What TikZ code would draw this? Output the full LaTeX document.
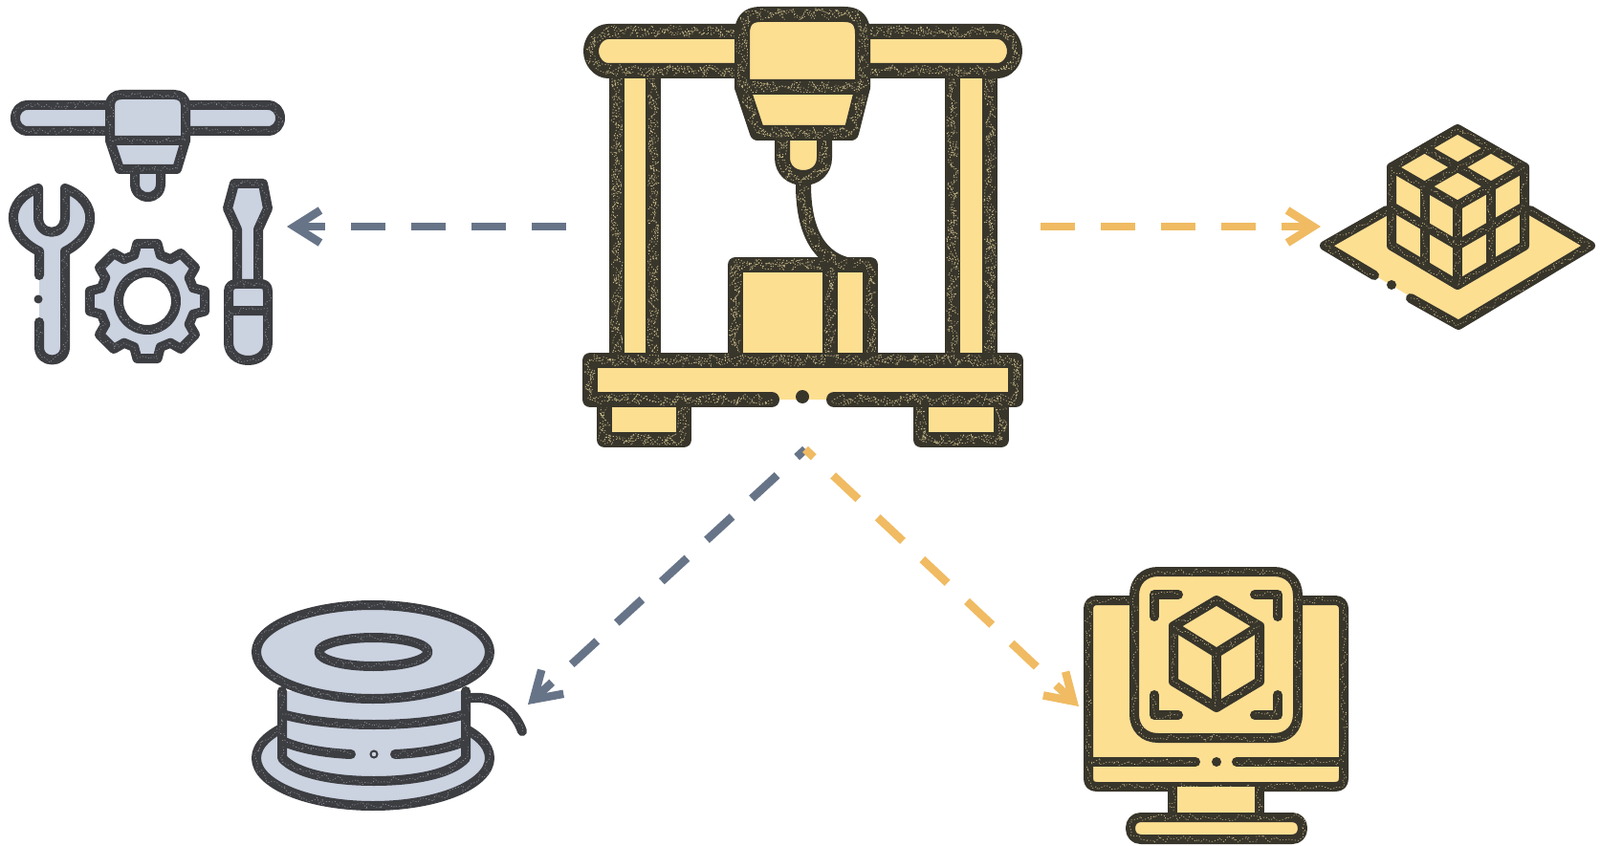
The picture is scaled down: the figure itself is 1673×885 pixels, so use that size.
\documentclass[tikz,border=0pt]{standalone}
\usetikzlibrary{arrows.meta,decorations.pathmorphing,calc}
\definecolor{ylw}{HTML}{FDDF92}
\definecolor{gry}{HTML}{CBD2E0}
\definecolor{inkY}{HTML}{38352B}
\definecolor{inkG}{HTML}{3D3E42}
\definecolor{chalkY}{HTML}{C9BC8A}
\definecolor{chalkG}{HTML}{8B8E96}
\definecolor{arrG}{HTML}{677488}
\definecolor{arrY}{HTML}{F0BB62}
\tikzset{
  flowbase/.style={line width=8.5pt,-{Straight Barb[length=27pt,width=34pt,line width=8.5pt]}},
  flowG/.style={flowbase,draw=arrG},
  flowY/.style={flowbase,draw=arrY},
  straightdash/.style={dash pattern=on 36pt off 27pt},
  diagdash/.style={dash pattern=on 36pt off 28pt,dash phase=24pt},
  scratch/.style n args={4}{postaction={decorate,decoration={random steps,segment length=#1,amplitude=#2},draw=#3,line width=#4,dash pattern=on 1.2pt off 2pt,line cap=butt,fill=none}},
  bigC/.style={draw=inkY,line width=16pt,line join=round,line cap=round,scratch={3.5pt}{6.5pt}{chalkY}{.75pt},scratch={2.5pt}{6.5pt}{chalkY}{.6pt}},
  midY/.style={draw=inkY,line width=10pt,line join=round,line cap=round,scratch={3.5pt}{3.8pt}{chalkY}{.6pt}},
  midG/.style={draw=inkG,line width=10pt,line join=round,line cap=round,scratch={3.5pt}{3.8pt}{chalkG}{.6pt}},
}
\begin{document}
\begin{tikzpicture}[x=1pt,y=-1pt]
\useasboundingbox (0,0) rectangle (1673,885);
\fill[white] (0,0) rectangle (1673,885);

% ---------- connector ends ----------
\coordinate (printerW) at (592,237);
\coordinate (printerE) at (1088,237);
\coordinate (printerS) at (842,470);
\coordinate (toolsE) at (300,237);
\coordinate (plateW) at (1381,237);
\coordinate (spoolNE) at (552,737);
\coordinate (monitorW) at (1128,739);

% ---------- connectors ----------
\draw[flowG,straightdash] (printerW) -- (toolsE);
\draw[flowY,straightdash] (printerE) -- (plateW);
\draw[flowG,diagdash] (printerS) -- (spoolNE);
\draw[flowY,diagdash] (printerS) -- (monitorW);

% ---------- printer ----------
\fill[ylw] (645,74) rectangle (683,377);
\fill[ylw] (996,74) rectangle (1035,377);
\draw[bigC] (645,74) -- (645,377);
\draw[bigC] (683,74) -- (683,377);
\draw[bigC] (996,74) -- (996,377);
\draw[bigC] (1035,74) -- (1035,377);
\draw[bigC,fill=ylw] (636,33) -- (1043,33) .. controls (1053,33) and (1061,43) .. (1061,53.5) .. controls (1061,64) and (1053,74) .. (1043,74) -- (636,74) .. controls (626,74) and (618,64) .. (618,53.5) .. controls (618,43) and (626,33) .. (636,33) -- cycle;
\draw[bigC,fill=ylw] (769,377) -- (769,277) -- (910,277) -- (910,377);
\draw[bigC] (868,277) -- (868,377);
\draw[bigC] (840,193) .. controls (840,235) and (852,268) .. (885,277);
\draw[bigC,fill=ylw] (818,139) -- (818,165) .. controls (818,178) and (828,186) .. (840,186) .. controls (852,186) and (862,178) .. (862,165) -- (862,139);
\draw[bigC,fill=ylw] (776,91) -- (792,139) -- (890,139) -- (902,91) -- cycle;
\draw[bigC,fill=ylw] (776,91) -- (776,35) .. controls (776,22) and (782,15) .. (795,15) -- (883,15) .. controls (896,15) and (902,22) .. (902,35) -- (902,91) -- cycle;
% feet
\draw[bigC,fill=ylw] (632,418) -- (632,460) -- (715,460) -- (715,418);
\draw[bigC,fill=ylw] (963,418) -- (963,460) -- (1047,460) -- (1047,418);
% base
\fill[ylw] (617,377) rectangle (1062,418);
\draw[bigC] (807,418) -- (617,418) -- (617,377) -- (1062,377) -- (1062,418) -- (872,418);
\fill[inkY] (839,415) circle[radius=7pt];

% ---------- tools ----------
\draw[midG,fill=gry] (29,110) -- (280,110) .. controls (288,110) and (293,116) .. (293,123.5) .. controls (293,131) and (288,137) .. (280,137) -- (29,137) .. controls (21,137) and (16,131) .. (16,123.5) .. controls (16,116) and (21,110) .. (29,110) -- cycle;
\draw[midG,fill=gry] (141,177) -- (141,192) .. controls (141,201) and (147,206) .. (154.5,206) .. controls (162,206) and (168,201) .. (168,192) -- (168,177);
\draw[midG,fill=gry] (115,147) -- (125,177) -- (185,177) -- (194,147) -- cycle;
\draw[midG,fill=gry] (115,147) -- (115,110) .. controls (115,103) and (120,99) .. (127,99) -- (182,99) .. controls (189,99) and (194,103) .. (194,110) -- (194,147) -- cycle;
% wrench
\fill[gry] (41,263) .. controls (5,245) and (5,210) .. (40,197) -- (40,227) .. controls (40,248) and (68,248) .. (68,227) -- (68,197) .. controls (103,210) and (103,245) .. (68,263) -- (68,363) .. controls (68,381) and (41,381) .. (41,363) -- cycle;
\draw[midG] (41,337) -- (41,363) .. controls (41,381) and (68,381) .. (68,363) -- (68,263) .. controls (103,245) and (103,210) .. (68,197) -- (68,227) .. controls (68,248) and (40,248) .. (40,227) -- (40,197) .. controls (5,210) and (5,245) .. (41,263) -- (41,288);
\fill[inkG] (40,313) circle[radius=4.5pt];
% gear
\coordinate (gc) at (154,315);
\draw[midG,fill=gry]
  ($(gc)+(-16:50)$) -- ($(gc)+(-10:61)$) -- ($(gc)+(10:61)$) -- ($(gc)+(16:50)$)
  -- ($(gc)+(29:50)$) -- ($(gc)+(35:61)$) -- ($(gc)+(55:61)$) -- ($(gc)+(61:50)$)
  -- ($(gc)+(74:50)$) -- ($(gc)+(80:61)$) -- ($(gc)+(100:61)$) -- ($(gc)+(106:50)$)
  -- ($(gc)+(119:50)$) -- ($(gc)+(125:61)$) -- ($(gc)+(145:61)$) -- ($(gc)+(151:50)$)
  -- ($(gc)+(164:50)$) -- ($(gc)+(170:61)$) -- ($(gc)+(190:61)$) -- ($(gc)+(196:50)$)
  -- ($(gc)+(209:50)$) -- ($(gc)+(215:61)$) -- ($(gc)+(235:61)$) -- ($(gc)+(241:50)$)
  -- ($(gc)+(254:50)$) -- ($(gc)+(260:61)$) -- ($(gc)+(280:61)$) -- ($(gc)+(286:50)$)
  -- ($(gc)+(299:50)$) -- ($(gc)+(305:61)$) -- ($(gc)+(325:61)$) -- ($(gc)+(331:50)$)
  -- cycle;
\draw[midG,fill=white] (gc) circle[radius=30pt];
% screwdriver
\draw[midG,fill=gry] (248,297) -- (248,240) -- (238,218) -- (245,192) -- (275,192) -- (280,218) -- (270,240) -- (270,297);
\draw[midG,fill=gry] (239,325) -- (239,305) .. controls (239,299) and (243,297) .. (247,297) -- (272,297) .. controls (277,297) and (280,299) .. (280,305) -- (280,325) -- cycle;
\draw[midG,fill=gry] (239,325) -- (239,358) .. controls (239,370) and (248,377) .. (259.5,377) .. controls (271,377) and (280,370) .. (280,358) -- (280,325) -- cycle;

% ---------- plate and cube ----------
\fill[ylw] (1385,257) -- (1450,220) -- (1600,220) -- (1663,257) -- (1525,340) -- cycle;
\draw[midY] (1450,220) -- (1385,257) -- (1437,288);
\draw[midY] (1475,312) -- (1525,340) -- (1663,257) -- (1600,220);
\fill[inkY] (1455,298) circle[radius=5pt];
\draw[midY,fill=ylw] (1524,135) -- (1594,175) -- (1594,257) -- (1524,298) -- (1455,257) -- (1455,175) -- cycle;
\draw[midY] (1455,175) -- (1524,215) -- (1594,175);
\draw[midY] (1524,215) -- (1524,298);
\draw[midY] (1489.5,155) -- (1559,195);
\draw[midY] (1559,155) -- (1489.5,195);
\draw[midY] (1489.5,195) -- (1489.5,277.5);
\draw[midY] (1559,195) -- (1559,277.5);
\draw[midY] (1455,216) -- (1524,256.5) -- (1594,216);

% ---------- spool ----------
\draw[midG,fill=gry] (390,793) ellipse[x radius=122pt,y radius=50pt];
\draw[midG,fill=gry] (295,723) -- (295,793) .. controls (310,810) and (350,817) .. (391,817) .. controls (432,817) and (472,810) .. (487,793) -- (487,723);
\draw[midG] (295,747) .. controls (315,753) and (350,758) .. (391,758) .. controls (432,758) and (467,753) .. (487,747);
\draw[midG] (295,775) .. controls (312,783) and (340,788) .. (367,789);
\draw[midG] (413,789) .. controls (440,788) and (470,783) .. (487,775);
\draw[draw=inkG,line width=2pt] (391,789) circle[radius=3.5pt];
\draw[midG] (487,731) .. controls (515,725) and (538,742) .. (546,765);
\draw[midG,fill=gry] (390,682) ellipse[x radius=122pt,y radius=49pt];
\draw[midG,fill=gry] (390.5,682) ellipse[x radius=57pt,y radius=15pt];

% ---------- monitor ----------
\draw[midY,fill=ylw] (1147,628) -- (1396,628) .. controls (1402,628) and (1405,632) .. (1405,637) -- (1405,814) .. controls (1405,820) and (1402,823) .. (1396,823) -- (1147,823) .. controls (1141,823) and (1138,820) .. (1138,814) -- (1138,637) .. controls (1138,632) and (1141,628) .. (1147,628) -- cycle;
\draw[midY] (1250,797) -- (1138,797);
\draw[midY] (1293,797) -- (1405,797);
\fill[inkY] (1272,797) circle[radius=5pt];
\draw[midY,fill=ylw] (1226,823) -- (1226,856) -- (1317,856) -- (1317,823);
\draw[midY,fill=ylw] (1193,855) -- (1351,855) .. controls (1358,855) and (1362,860) .. (1362,866.5) .. controls (1362,873) and (1358,878) .. (1351,878) -- (1193,878) .. controls (1186,878) and (1182,873) .. (1182,866.5) .. controls (1182,860) and (1186,855) .. (1193,855) -- cycle;
\draw[midY,fill=ylw] (1211,598) -- (1332,598) .. controls (1347,598) and (1357,608) .. (1357,623) -- (1357,747) .. controls (1357,762) and (1347,772) .. (1332,772) -- (1211,772) .. controls (1196,772) and (1186,762) .. (1186,747) -- (1186,623) .. controls (1186,608) and (1196,598) .. (1211,598) -- cycle;
\draw[midY] (1207,645) -- (1207,622) -- (1232,622);
\draw[midY] (1312,622) -- (1336,622) -- (1336,645);
\draw[midY] (1207,727) -- (1207,748) -- (1232,748);
\draw[midY] (1336,727) -- (1336,748) -- (1312,748);
\draw[midY] (1272,628) -- (1317,655) -- (1317,713) -- (1272,740) -- (1227,713) -- (1227,655) -- cycle;
\draw[midY] (1227,655) -- (1272,683) -- (1317,655);
\draw[midY] (1272,683) -- (1272,740);
\end{tikzpicture}
\end{document}
